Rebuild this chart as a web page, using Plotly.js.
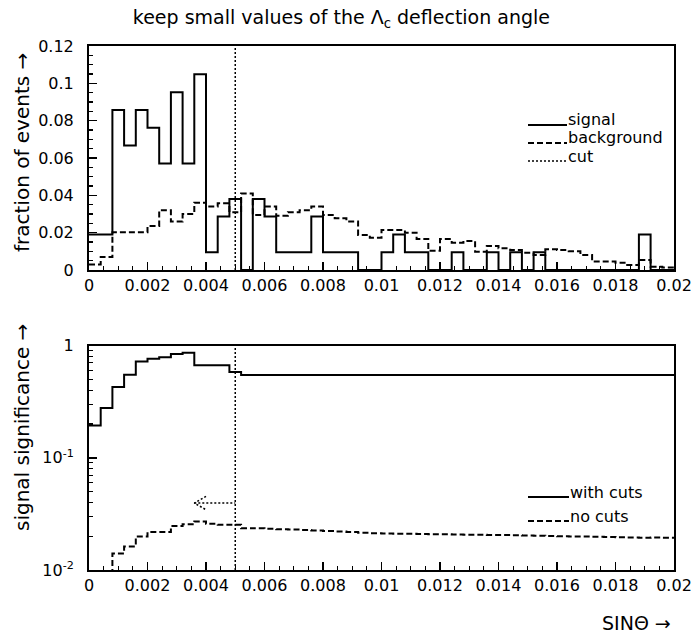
<!DOCTYPE html>
<html><head><meta charset="utf-8">
<script src="https://cdn.plot.ly/plotly-3.0.1.min.js"></script>
<style>html,body{margin:0;padding:0;background:#fff}#chart{width:694px;height:635px}</style>
</head><body><div id="chart"></div>
<script>
// ---- data (50 bins of width 0.0004 in sin(theta)) ----
const binWidth = 0.0004;
const nBins = 50;
const signalFraction = [
  0.0190, 0.0190, 0.0857, 0.0667, 0.0857, 0.0762, 0.0571, 0.0952, 0.0571, 0.1048,
  0.0095, 0.0286, 0.0381, 0.0000, 0.0381, 0.0286, 0.0095, 0.0095, 0.0095, 0.0286,
  0.0095, 0.0095, 0.0095, 0.0000, 0.0000, 0.0095, 0.0190, 0.0095, 0.0095, 0.0000,
  0.0000, 0.0095, 0.0000, 0.0000, 0.0095, 0.0000, 0.0095, 0.0000, 0.0095, 0.0000,
  0.0000, 0.0000, 0.0000, 0.0000, 0.0000, 0.0000, 0.0000, 0.0190, 0.0000, 0.0000
];
const backgroundFraction = [
  0.0030, 0.0070, 0.0202, 0.0202, 0.0202, 0.0236, 0.0320, 0.0260, 0.0300, 0.0360,
  0.0340, 0.0357, 0.0310, 0.0410, 0.0295, 0.0340, 0.0290, 0.0310, 0.0320, 0.0340,
  0.0295, 0.0277, 0.0260, 0.0188, 0.0173, 0.0214, 0.0214, 0.0200, 0.0166, 0.0103,
  0.0166, 0.0146, 0.0155, 0.0098, 0.0129, 0.0116, 0.0107, 0.0093, 0.0080, 0.0111,
  0.0107, 0.0100, 0.0080, 0.0045, 0.0045, 0.0039, 0.0027, 0.0054, 0.0018, 0.0014
];
const significanceWithCuts = [
  0.194, 0.277, 0.426, 0.549, 0.722, 0.762, 0.784, 0.840, 0.863, 0.666,
  0.666, 0.666, 0.580, 0.545, 0.545, 0.545, 0.545, 0.545, 0.545, 0.545,
  0.545, 0.545, 0.545, 0.545, 0.545, 0.545, 0.545, 0.545, 0.545, 0.545,
  0.545, 0.545, 0.545, 0.545, 0.545, 0.545, 0.545, 0.545, 0.545, 0.545,
  0.545, 0.545, 0.545, 0.545, 0.545, 0.545, 0.545, 0.545, 0.545, 0.545
];
const significanceNoCuts = [
  0.0040, 0.0070, 0.0140, 0.0162, 0.0199, 0.0218, 0.0218, 0.0246, 0.0255, 0.0271,
  0.0258, 0.0253, 0.0253, 0.0236, 0.0235, 0.0233, 0.0231, 0.0229, 0.0227, 0.0225,
  0.0222, 0.0220, 0.0218, 0.0215, 0.0213, 0.0211, 0.0210, 0.0210, 0.0209, 0.0208,
  0.0208, 0.0207, 0.0206, 0.0206, 0.0205, 0.0205, 0.0204, 0.0203, 0.0202, 0.0201,
  0.0200, 0.0199, 0.0199, 0.0198, 0.0197, 0.0196, 0.0195, 0.0194, 0.0195, 0.0194
];
const cutValue = 0.005;
const arrowLevel = 0.0395;   // height of the dotted "keep" arrow in the lower pad
const arrowTip = 0.0036;
const topLegend = ['signal', 'background', 'cut'];
const bottomLegend = ['with cuts', 'no cuts'];
const logTickVals = [0.01, 0.1, 1];
const logTickText = ['10<sup>-2</sup>', '10<sup>-1</sup>', '1'];
const logMinorVals = [0.02,0.03,0.04,0.05,0.06,0.07,0.08,0.09,0.2,0.3,0.4,0.5,0.6,0.7,0.8,0.9];

// ---- helpers ----
const edges = [];
for (let i = 0; i <= nBins; i++) edges.push(+(i * binWidth).toFixed(5));
const stepY = v => v.concat([v[v.length - 1]]);

const FONT = 'DejaVu Sans, sans-serif';
const BLACK = '#000';
const DASH = '6px,3px';
const DOT = '2px,2px';

const headDx = binWidth;       // arrow head arm length along x
const headF = 1.148;           // arrow head half-opening (factor on log axis)

const traces = [
  {x: edges, y: stepY(signalFraction), xaxis: 'x', yaxis: 'y', mode: 'lines',
   line: {shape: 'hv', color: BLACK, width: 2}, name: 'signal', showlegend: false},
  {x: edges, y: stepY(backgroundFraction), xaxis: 'x', yaxis: 'y', mode: 'lines',
   line: {shape: 'hv', color: BLACK, width: 2, dash: DASH}, name: 'background', showlegend: false},
  {x: edges, y: stepY(significanceWithCuts), xaxis: 'x2', yaxis: 'y2', mode: 'lines',
   line: {shape: 'hv', color: BLACK, width: 2}, name: 'with cuts', showlegend: false},
  {x: edges, y: stepY(significanceNoCuts), xaxis: 'x2', yaxis: 'y2', mode: 'lines',
   line: {shape: 'hv', color: BLACK, width: 2, dash: DASH}, name: 'no cuts', showlegend: false},
  {x: [arrowTip + headDx, arrowTip, arrowTip + headDx, null, arrowTip, cutValue],
   y: [arrowLevel * headF, arrowLevel, arrowLevel / headF, null, arrowLevel, arrowLevel],
   xaxis: 'x2', yaxis: 'y2', mode: 'lines', hoverinfo: 'skip',
   line: {color: BLACK, width: 1.5, dash: DOT}, name: 'keep', showlegend: false}
];

// page geometry
const W = 694, H = 635, ML = 89, MR = 20, MT = 46, MB = 65;
const PW = W - ML - MR, PH = H - MT - MB;
const px2x = px => (px - ML) / PW;
const py2y = py => (H - MB - py) / PH;

const axisCommon = {
  showgrid: false, zeroline: false, showline: true, linecolor: BLACK, linewidth: 2,
  mirror: true, ticks: 'inside', tickcolor: BLACK, tickwidth: 1.5,
  tickfont: {family: FONT, size: 16, color: BLACK}
};

const xTicks = {
  tickmode: 'linear', tick0: 0, dtick: 0.002, ticklen: 8, range: [0, 0.02],
  minor: {dtick: 0.0005, ticks: 'inside', ticklen: 4, tickcolor: BLACK, tickwidth: 1.2, showgrid: false}
};

const shapes = [
  {type: 'line', xref: 'x', yref: 'y domain', x0: cutValue, x1: cutValue, y0: 0, y1: 1,
   line: {color: BLACK, width: 1.5, dash: DOT}},
  {type: 'line', xref: 'x2', yref: 'y2 domain', x0: cutValue, x1: cutValue, y0: 0, y1: 1,
   line: {color: BLACK, width: 1.5, dash: DOT}}
];

const annotations = [];
const legendDash = ['solid', DASH, DOT];
const topLegendY = [125, 143, 161];
topLegend.forEach((t, i) => {
  shapes.push({type: 'line', xref: 'paper', yref: 'paper', x0: px2x(528), x1: px2x(567),
    y0: py2y(topLegendY[i]), y1: py2y(topLegendY[i]),
    line: {color: BLACK, width: i === 2 ? 1.5 : 2, dash: legendDash[i]}});
  annotations.push({xref: 'paper', yref: 'paper', x: px2x(566), y: py2y(topLegendY[i] - 5),
    xanchor: 'left', yanchor: 'middle', text: t, showarrow: false,
    font: {family: FONT, size: 16, color: BLACK}});
});
const botLegendY = [497, 521];
bottomLegend.forEach((t, i) => {
  shapes.push({type: 'line', xref: 'paper', yref: 'paper', x0: px2x(528), x1: px2x(569),
    y0: py2y(botLegendY[i]), y1: py2y(botLegendY[i]),
    line: {color: BLACK, width: 2, dash: i === 1 ? DASH : 'solid'}});
  annotations.push({xref: 'paper', yref: 'paper', x: px2x(568), y: py2y(botLegendY[i] - 5),
    xanchor: 'left', yanchor: 'middle', text: t, showarrow: false,
    font: {family: FONT, size: 16, color: BLACK}});
});
annotations.push({xref: 'paper', yref: 'paper', x: px2x(22), y: py2y(153), textangle: -90,
  xanchor: 'center', yanchor: 'middle', text: 'fraction of events →', showarrow: false,
  font: {family: FONT, size: 20, color: BLACK}});
annotations.push({xref: 'paper', yref: 'paper', x: px2x(22), y: py2y(428), textangle: -90,
  xanchor: 'center', yanchor: 'middle', text: 'signal significance →', showarrow: false,
  font: {family: FONT, size: 20, color: BLACK}});
annotations.push({xref: 'paper', yref: 'paper', x: px2x(673), y: py2y(623),
  xanchor: 'right', yanchor: 'middle', text: 'SINΘ →', showarrow: false,
  font: {family: FONT, size: 19, color: BLACK}});

const layout = {
  width: W, height: H, paper_bgcolor: '#fff', plot_bgcolor: '#fff',
  margin: {l: ML, r: MR, t: MT, b: MB},
  showlegend: false,
  title: {text: 'keep small values of the Λ<sub>c</sub> deflection angle',
          font: {family: FONT, size: 19, color: BLACK},
          x: 0.492, xref: 'container', xanchor: 'center', y: 1 - 17 / H, yref: 'container', yanchor: 'middle'},
  xaxis: Object.assign({}, axisCommon, xTicks, {domain: [0, 1], anchor: 'y'}),
  yaxis: Object.assign({}, axisCommon, {domain: [py2y(270), 1], anchor: 'x', range: [0, 0.12],
    tickmode: 'linear', tick0: 0, dtick: 0.02, ticklen: 8, ticklabelstandoff: 10,
    minor: {dtick: 0.005, ticks: 'inside', ticklen: 4, tickcolor: BLACK, tickwidth: 1.2, showgrid: false}}),
  xaxis2: Object.assign({}, axisCommon, xTicks, {domain: [0, 1], anchor: 'y2'}),
  yaxis2: Object.assign({}, axisCommon, {domain: [0, py2y(345.5)], anchor: 'x2', type: 'log', range: [-2, 0],
    tickmode: 'array', tickvals: logTickVals, ticktext: logTickText, ticklen: 8, ticklabelstandoff: 10,
    minor: {tickmode: 'array', tickvals: logMinorVals, ticks: 'inside', ticklen: 4, tickcolor: BLACK, tickwidth: 1.2, showgrid: false}}),
  shapes: shapes,
  annotations: annotations
};

Plotly.newPlot('chart', traces, layout, {displayModeBar: false, staticPlot: true});
</script>
</body></html>
